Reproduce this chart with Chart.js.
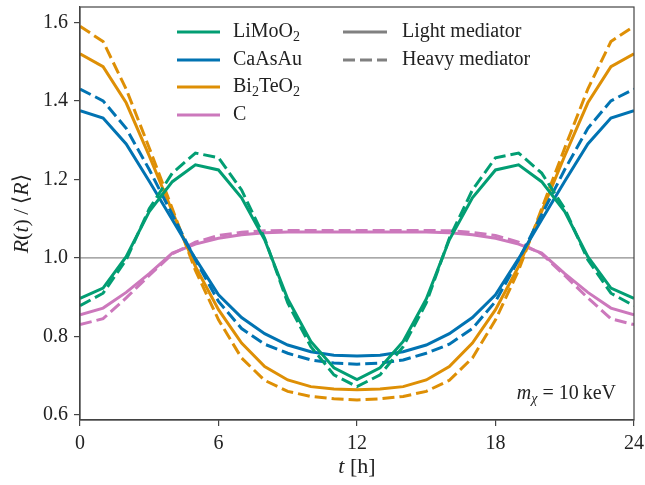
<!DOCTYPE html>
<html>
<head>
<meta charset="utf-8">
<script src="https://cdn.jsdelivr.net/npm/chart.js@4.4.1/dist/chart.umd.min.js"></script>
<style>
  html, body { margin: 0; padding: 0; background: #fff; }
  #wrap { width: 645px; height: 485px; }
</style>
</head>
<body>
<div id="wrap"><canvas id="myChart"></canvas></div>
<script>
// hours of the day
const hours = [0, 1, 2, 3, 4, 5, 6, 7, 8, 9, 10, 11, 12, 13, 14, 15, 16, 17, 18, 19, 20, 21, 22, 23, 24];

// R(t)/<R>, light mediator (solid) and heavy mediator (dashed)
const limoLight = [0.897, 0.923, 1.003, 1.118, 1.194, 1.237, 1.224, 1.153, 1.046, 0.895, 0.787, 0.720, 0.690,
                   0.720, 0.787, 0.895, 1.046, 1.153, 1.224, 1.237, 1.194, 1.118, 1.003, 0.923, 0.897];
const limoHeavy = [0.878, 0.910, 0.995, 1.125, 1.216, 1.267, 1.255, 1.173, 1.050, 0.885, 0.774, 0.702, 0.672,
                   0.702, 0.774, 0.885, 1.050, 1.173, 1.255, 1.267, 1.216, 1.125, 0.995, 0.910, 0.878];
const caasLight = [1.375, 1.356, 1.290, 1.195, 1.097, 0.998, 0.906, 0.848, 0.807, 0.778, 0.761, 0.752, 0.750,
                   0.752, 0.761, 0.778, 0.807, 0.848, 0.906, 0.998, 1.097, 1.195, 1.290, 1.356, 1.375];
const caasHeavy = [1.430, 1.400, 1.330, 1.225, 1.110, 0.995, 0.889, 0.820, 0.780, 0.757, 0.740, 0.732, 0.729,
                   0.732, 0.740, 0.757, 0.780, 0.820, 0.889, 0.995, 1.110, 1.225, 1.330, 1.400, 1.430];
const bitoLight = [1.520, 1.487, 1.395, 1.260, 1.118, 0.978, 0.868, 0.783, 0.723, 0.689, 0.672, 0.666, 0.664,
                   0.666, 0.672, 0.689, 0.723, 0.783, 0.868, 0.978, 1.118, 1.260, 1.395, 1.487, 1.520];
const bitoHeavy = [1.590, 1.551, 1.430, 1.280, 1.125, 0.968, 0.842, 0.745, 0.688, 0.660, 0.647, 0.641, 0.638,
                   0.641, 0.647, 0.660, 0.688, 0.745, 0.842, 0.968, 1.125, 1.280, 1.430, 1.551, 1.590];
const cLight    = [0.855, 0.872, 0.912, 0.960, 1.012, 1.035, 1.050, 1.059, 1.064, 1.066, 1.066, 1.066, 1.066,
                   1.066, 1.066, 1.066, 1.064, 1.059, 1.050, 1.035, 1.012, 0.960, 0.912, 0.872, 0.855];
const cHeavy    = [0.830, 0.845, 0.898, 0.955, 1.010, 1.040, 1.057, 1.065, 1.069, 1.070, 1.070, 1.070, 1.070,
                   1.070, 1.070, 1.070, 1.069, 1.065, 1.057, 1.040, 1.010, 0.955, 0.898, 0.845, 0.830];

const materials = [
  { name: 'LiMo', sub: ['LiMoO', '2'], color: '#029e73', light: limoLight, heavy: limoHeavy },
  { name: 'CaAsAu', sub: ['CaAsAu'], color: '#0173b2', light: caasLight, heavy: caasHeavy },
  { name: 'Bi2TeO2', sub: ['Bi', '2', 'TeO', '2'], color: '#de8f05', light: bitoLight, heavy: bitoHeavy },
  { name: 'C', sub: ['C'], color: '#cc78bc', light: cLight, heavy: cHeavy }
];

const xTicks = [0, 6, 12, 18, 24];
const yTicks = [0.6, 0.8, 1.0, 1.2, 1.4, 1.6];

const FONT = "'Liberation Serif', 'DejaVu Serif', serif";
const DASH = [12, 5];

const datasets = [];
materials.forEach(m => {
  datasets.push({
    label: m.name + ' light',
    data: hours.map((h, i) => ({ x: h, y: m.light[i] })),
    borderColor: m.color, borderWidth: 3, pointRadius: 0, fill: false, tension: 0
  });
  datasets.push({
    label: m.name + ' heavy',
    data: hours.map((h, i) => ({ x: h, y: m.heavy[i] })),
    borderColor: m.color, borderWidth: 3, borderDash: DASH, pointRadius: 0, fill: false, tension: 0
  });
});

// draw text made of pieces: [text, style] with style 'n' normal, 'i' italic, 's' subscript, 'si' italic sub
function drawPieces(ctx, pieces, x, y, size) {
  let cx = x;
  pieces.forEach(p => {
    const sub = p[1].indexOf('s') >= 0;
    const ital = p[1].indexOf('i') >= 0;
    const sz = sub ? Math.round(size * 0.7) : size;
    ctx.font = (ital ? 'italic ' : '') + sz + 'px ' + FONT;
    ctx.fillText(p[0], cx, y + (sub ? size * 0.25 : 0));
    cx += ctx.measureText(p[0]).width;
  });
  return cx - x;
}
function measurePieces(ctx, pieces, size) {
  let w = 0;
  pieces.forEach(p => {
    const sub = p[1].indexOf('s') >= 0;
    const ital = p[1].indexOf('i') >= 0;
    const sz = sub ? Math.round(size * 0.7) : size;
    ctx.font = (ital ? 'italic ' : '') + sz + 'px ' + FONT;
    w += ctx.measureText(p[0]).width;
  });
  return w;
}

const extras = {
  id: 'extras',
  beforeDatasetsDraw(chart) {
    const { ctx, chartArea: a, scales } = chart;
    const y1 = scales.y.getPixelForValue(1.0);
    ctx.save();
    ctx.strokeStyle = '#8c8c8c';
    ctx.lineWidth = 1.2;
    ctx.beginPath();
    ctx.moveTo(a.left, y1);
    ctx.lineTo(a.right, y1);
    ctx.stroke();
    ctx.restore();
  },
  afterDraw(chart) {
    const { ctx, chartArea: a } = chart;
    ctx.save();
    // frame
    ctx.strokeStyle = '#444';
    ctx.lineWidth = 1.2;
    ctx.strokeRect(a.left, a.top, a.right - a.left, a.bottom - a.top);

    ctx.fillStyle = '#222';
    ctx.textBaseline = 'middle';
    ctx.textAlign = 'left';

    // legend, materials column
    const rows = [32, 60, 87, 115];
    materials.forEach((m, i) => {
      ctx.strokeStyle = m.color;
      ctx.lineWidth = 3;
      ctx.setLineDash([]);
      ctx.beginPath();
      ctx.moveTo(177, rows[i]);
      ctx.lineTo(220, rows[i]);
      ctx.stroke();
      const pieces = m.sub.map((t, k) => [t, (k % 2 === 1) ? 's' : 'n']);
      drawPieces(ctx, pieces, 233, rows[i], 20);
    });
    // legend, mediator column
    [['Light mediator', []], ['Heavy mediator', DASH]].forEach((e, i) => {
      ctx.strokeStyle = '#808080';
      ctx.lineWidth = 3;
      ctx.setLineDash(e[1]);
      ctx.beginPath();
      ctx.moveTo(343, rows[i]);
      ctx.lineTo(387, rows[i]);
      ctx.stroke();
      ctx.setLineDash([]);
      drawPieces(ctx, [[e[0], 'n']], 402, rows[i], 20);
    });

    // mass annotation
    const ann = [['m', 'i'], ['\u03c7', 'si'], [' = 10\u2009keV', 'n']];
    const aw = measurePieces(ctx, ann, 20);
    drawPieces(ctx, ann, 616 - aw, 394, 20);

    // x title
    const xt = [['t', 'i'], [' [h]', 'n']];
    const xw = measurePieces(ctx, xt, 22);
    drawPieces(ctx, xt, (a.left + a.right) / 2 - xw / 2, 467, 22);

    // y title
    const yt = [['R', 'i'], ['(', 'n'], ['t', 'i'], [')\u2009/\u2009\u27e8', 'n'], ['R', 'i'], ['\u27e9', 'n']];
    const yw = measurePieces(ctx, yt, 22);
    ctx.translate(22, (a.top + a.bottom) / 2);
    ctx.rotate(-Math.PI / 2);
    drawPieces(ctx, yt, -yw / 2, 0, 22);
    ctx.restore();
  }
};

const ctx = document.getElementById('myChart');

const myChart = new Chart(ctx, {
  type: 'line',
  data: { datasets: datasets },
  options: {
    responsive: true,
    maintainAspectRatio: false,
    animation: false,
    layout: { padding: { top: 7, right: 11, left: 0, bottom: 0 } },
    plugins: { legend: { display: false }, tooltip: { enabled: false } },
    scales: {
      x: {
        type: 'linear',
        min: 0, max: 24,
        afterBuildTicks: s => { s.ticks = xTicks.map(v => ({ value: v })); },
        afterFit: s => { s.height = 65; s.paddingLeft = 0; s.paddingRight = 0; },
        grid: { drawOnChartArea: false, drawTicks: true, tickLength: 6, color: '#444', lineWidth: 1.2 },
        border: { display: true, color: '#444', width: 1.2 },
        ticks: { color: '#222', font: { family: FONT, size: 20 }, padding: 6, maxRotation: 0 }
      },
      y: {
        type: 'linear',
        min: 0.587, max: 1.639,
        afterBuildTicks: s => { s.ticks = yTicks.map(v => ({ value: v })); },
        afterFit: s => { s.width = 80; s.paddingTop = 0; s.paddingBottom = 0; },
        grid: { drawOnChartArea: false, drawTicks: true, tickLength: 6, color: '#444', lineWidth: 1.2 },
        border: { display: true, color: '#444', width: 1.2 },
        ticks: { color: '#222', font: { family: FONT, size: 20 }, padding: 6,
                 callback: v => v.toFixed(1) }
      }
    }
  },
  plugins: [extras]
});
</script>
</body>
</html>
